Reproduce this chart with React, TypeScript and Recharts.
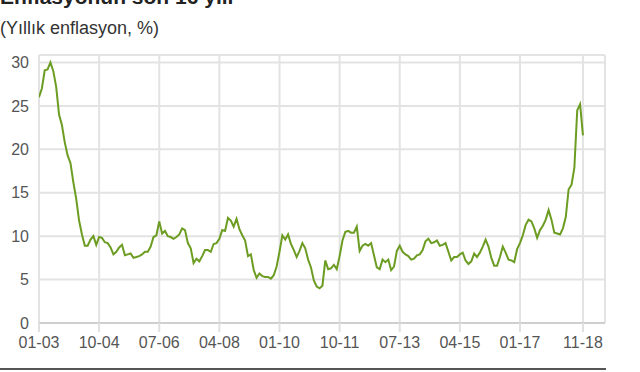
import React from "react";
import { LineChart, Line, XAxis, YAxis, CartesianGrid } from "recharts";

// Annual inflation (%) by month, Jan 2003 – Nov 2018
const y2003 = [26.0, 27.0, 29.1, 29.2, 30.0, 29.0, 27.2, 24.0, 22.8, 20.8, 19.3, 18.4];
const y2004 = [16.2, 14.3, 11.8, 10.2, 8.9, 8.9, 9.6, 10.0, 9.0, 9.9, 9.8, 9.3];
const y2005 = [9.2, 8.7, 7.9, 8.2, 8.7, 9.0, 7.8, 7.9, 8.0, 7.5, 7.6, 7.7];
const y2006 = [7.9, 8.2, 8.2, 8.8, 9.9, 10.1, 11.7, 10.3, 10.6, 10.0, 9.9, 9.7];
const y2007 = [9.9, 10.2, 10.9, 10.7, 9.2, 8.6, 6.9, 7.4, 7.1, 7.7, 8.4, 8.4];
const y2008 = [8.2, 9.1, 9.2, 9.7, 10.7, 10.6, 12.1, 11.8, 11.1, 12.0, 10.8, 10.1];
const y2009 = [9.5, 7.7, 7.9, 6.1, 5.2, 5.7, 5.4, 5.3, 5.3, 5.1, 5.5, 6.5];
const y2010 = [8.2, 10.1, 9.6, 10.2, 9.1, 8.4, 7.6, 8.3, 9.2, 8.6, 7.3, 6.4];
const y2011 = [4.9, 4.2, 4.0, 4.3, 7.2, 6.2, 6.3, 6.7, 6.2, 7.7, 9.5, 10.5];
const y2012 = [10.6, 10.4, 10.4, 11.1, 8.3, 8.9, 9.1, 8.9, 9.2, 7.8, 6.4, 6.2];
const y2013 = [7.3, 7.0, 7.3, 6.1, 6.5, 8.3, 8.9, 8.2, 7.9, 7.7, 7.3, 7.4];
const y2014 = [7.8, 7.9, 8.4, 9.4, 9.7, 9.2, 9.3, 9.5, 8.9, 9.0, 9.2, 8.2];
const y2015 = [7.2, 7.6, 7.6, 7.9, 8.1, 7.2, 6.8, 7.1, 8.0, 7.6, 8.1, 8.8];
const y2016 = [9.6, 8.8, 7.5, 6.6, 6.6, 7.6, 8.8, 8.1, 7.3, 7.2, 7.0, 8.5];
const y2017 = [9.2, 10.1, 11.3, 11.9, 11.7, 10.9, 9.8, 10.7, 11.2, 11.9, 13.0, 11.9];
const y2018 = [10.4, 10.3, 10.2, 10.9, 12.2, 15.4, 15.9, 17.9, 24.5, 25.2, 21.6];

const tickLabels = ["01-03", "10-04", "07-06", "04-08", "01-10", "10-11", "07-13", "04-15", "01-17", "11-18"];
const tickIndex = [0, 21, 42, 63, 84, 105, 126, 147, 168, 190];
const yTicks = [0, 5, 10, 15, 20, 25, 30];

const values = [
  ...y2003, ...y2004, ...y2005, ...y2006, ...y2007, ...y2008, ...y2009, ...y2010,
  ...y2011, ...y2012, ...y2013, ...y2014, ...y2015, ...y2016, ...y2017, ...y2018,
];
const data = values.map((v, i) => ({ i, v }));

const FONT = "'Liberation Sans', Arial, Helvetica, sans-serif";

export default function App() {
  return (
    <div style={{ position: "absolute", left: 0, top: 0, width: 640, height: 372, background: "#fff", overflow: "hidden", fontFamily: FONT }}>
      <svg width={640} height={60} style={{ position: "absolute", left: 0, top: 0 }}>
        <text x={0} y={4} fontFamily={FONT} fontSize={21} fontWeight="bold" fill="#222">Enflasyonun son 16 yılı</text>
        <text x={0} y={34} fontFamily={FONT} fontSize={18} fill="#333">(Yıllık enflasyon, %)</text>
      </svg>
      <div style={{ position: "absolute", left: 0, top: 0 }}>
        <LineChart width={640} height={372} data={data} margin={{ top: 55, right: 35, bottom: 0, left: 0 }}>
          <CartesianGrid stroke="#e3e3e3" strokeWidth={2} verticalPoints={undefined} />
          <XAxis
            dataKey="i"
            type="number"
            domain={[0, 197.7]}
            ticks={tickIndex}
            tickFormatter={(v: number) => tickLabels[tickIndex.indexOf(v)] ?? ""}
            interval={0}
            height={49}
            allowDataOverflow
            axisLine={{ stroke: "#cfcfcf", strokeWidth: 2 }}
            tickLine={{ stroke: "#e0e0e0", strokeWidth: 2 }}
            tickSize={9}
            tickMargin={5}
            tick={{ fill: "#555", fontSize: 16, fontFamily: FONT }}
          />
          <YAxis
            type="number"
            domain={[0, 30.86]}
            ticks={yTicks}
            interval={0}
            width={39}
            allowDataOverflow
            axisLine={false}
            tickLine={false}
            tickMargin={4}
            tick={{ fill: "#555", fontSize: 16, fontFamily: FONT }}
          />
          <Line
            type="linear"
            dataKey="v"
            stroke="#6c9d22"
            strokeWidth={2}
            dot={false}
            isAnimationActive={false}
          />
        </LineChart>
      </div>
      <div style={{ position: "absolute", left: 0, top: 368, width: 606, height: 2, background: "#555" }} />
    </div>
  );
}
